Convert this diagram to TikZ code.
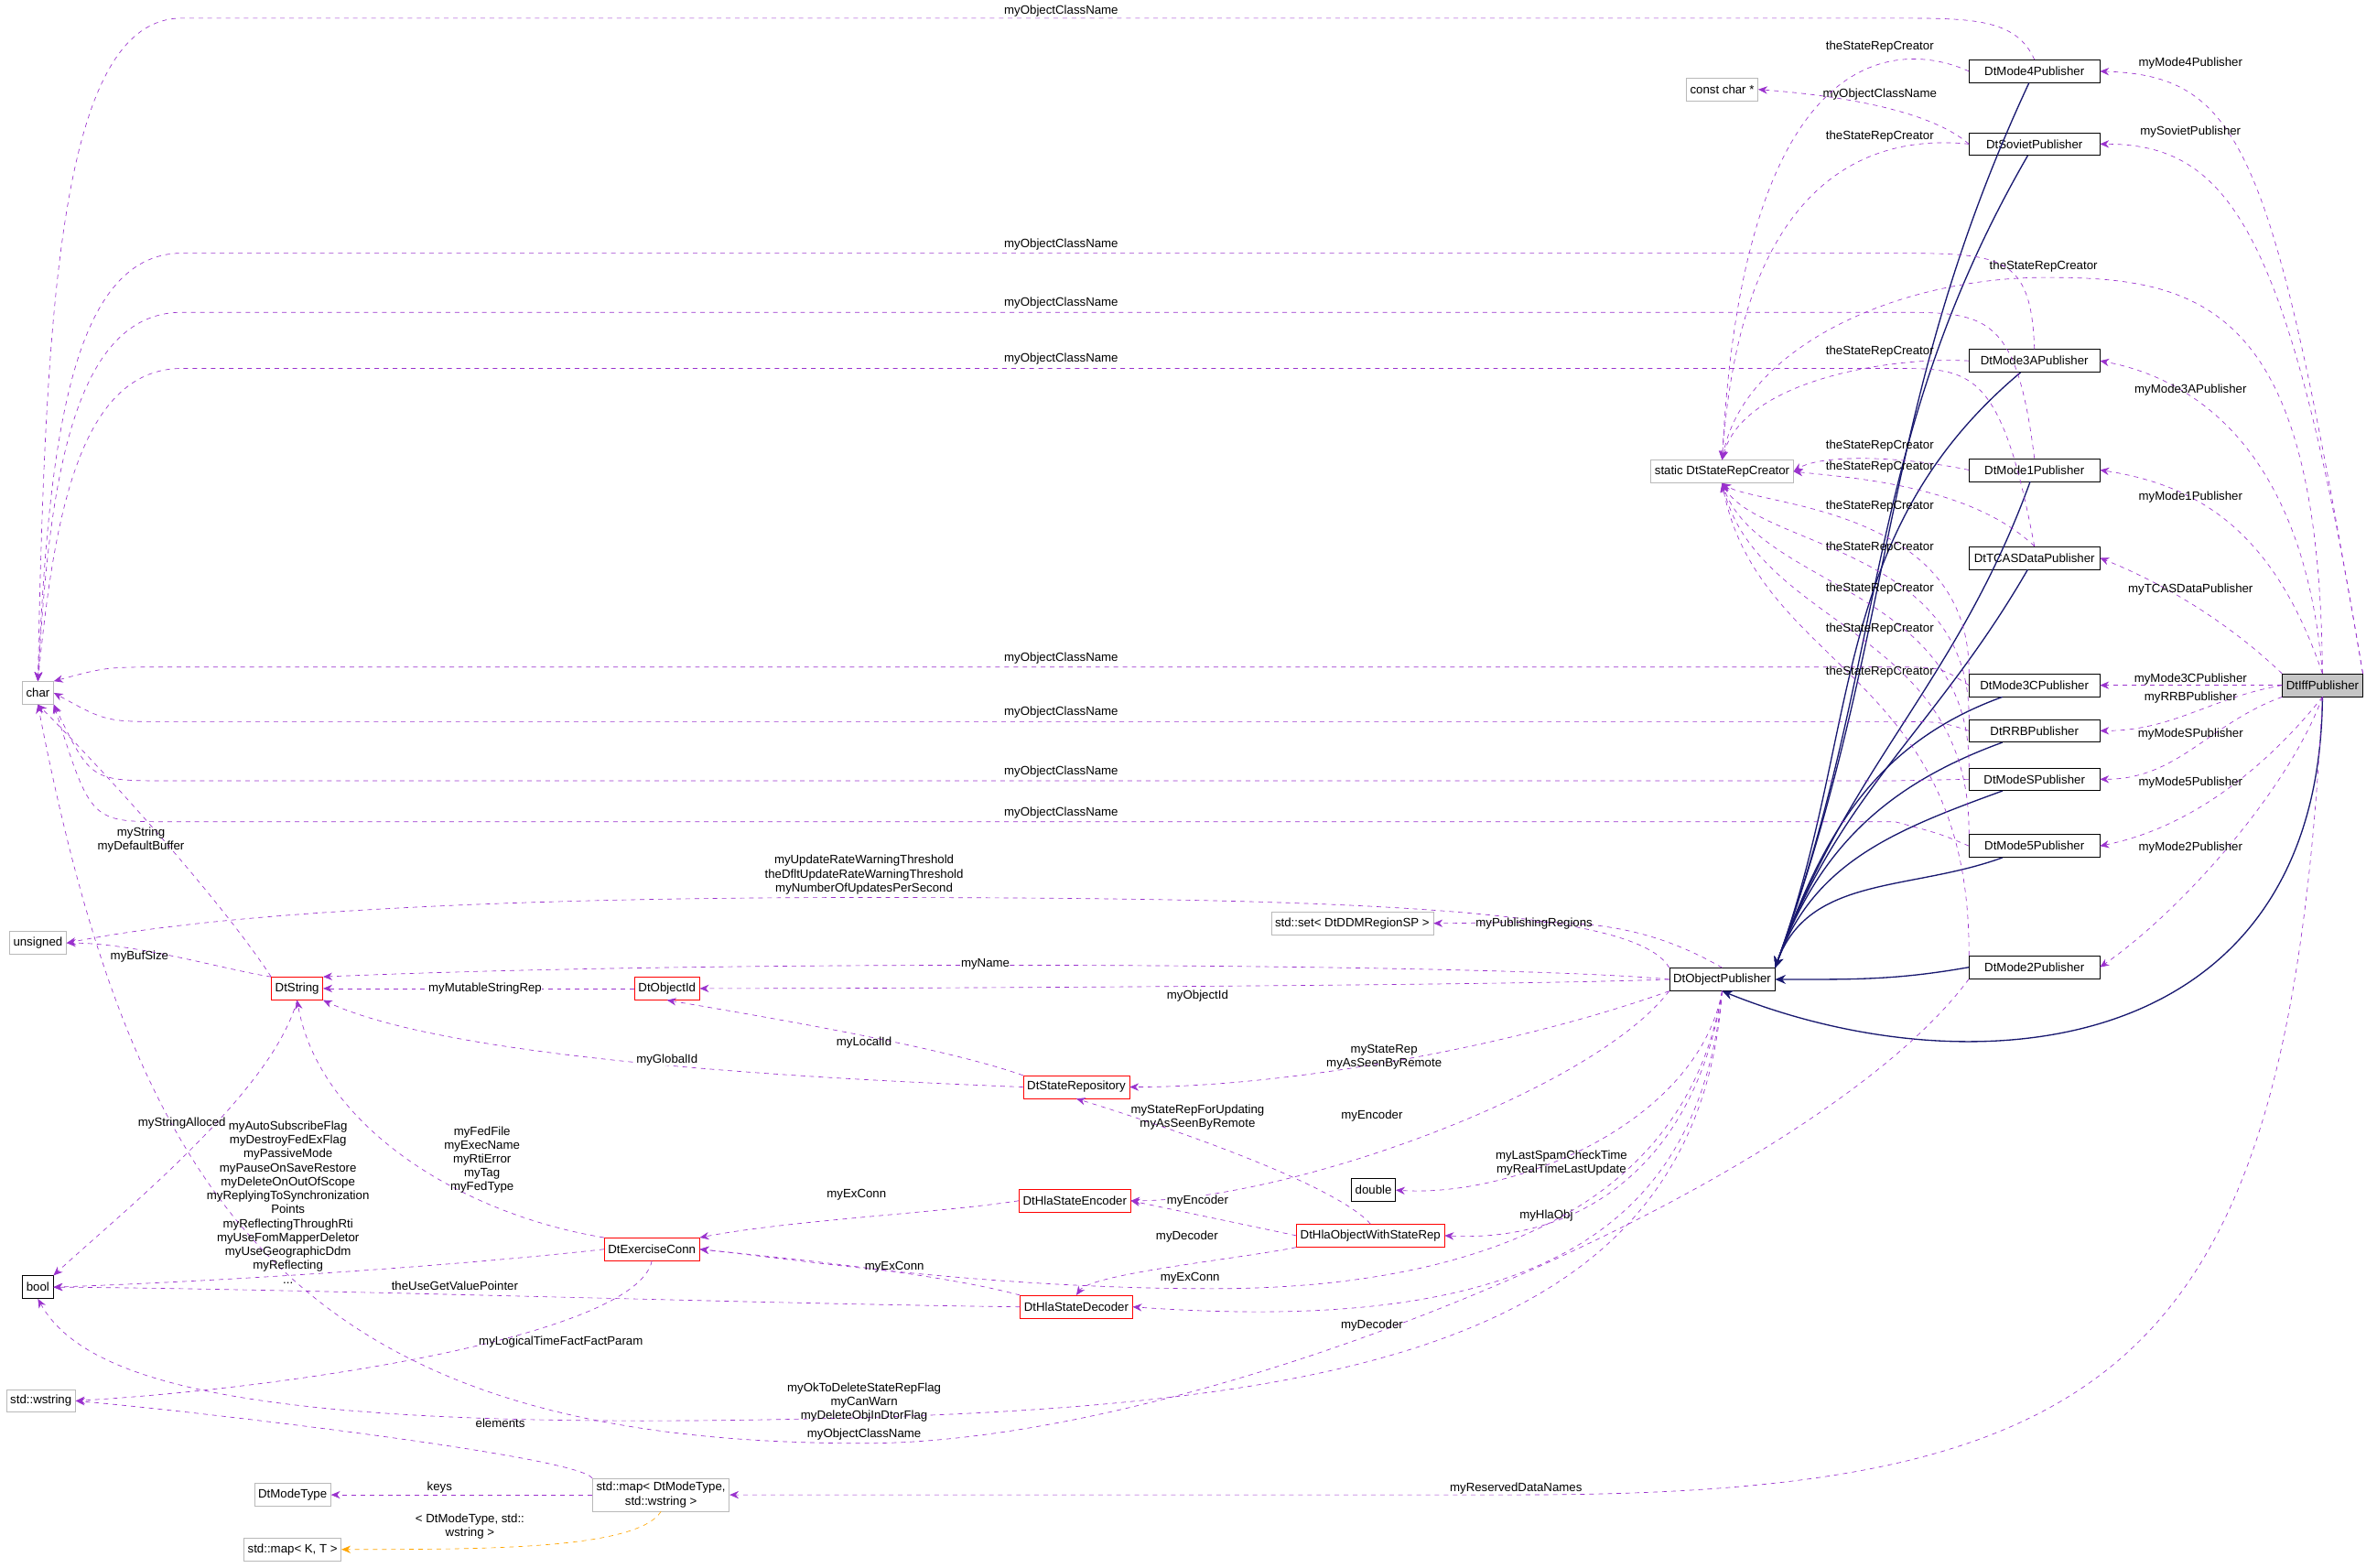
\documentclass[tikz,border=0pt]{standalone}
\usepackage{fontspec}
\setmainfont{Liberation Sans}
\usetikzlibrary{arrows.meta}
\definecolor{dep}{HTML}{9A32CD}
\definecolor{inh}{HTML}{191970}
\definecolor{tpl}{HTML}{FFA500}
\begin{document}
\begin{tikzpicture}[x=1pt,y=-1pt,
 every node/.style={font=\fontsize{8}{9.2}\selectfont},
 b/.style={draw=black,fill=white,inner sep=2.5pt,minimum height=15pt},
 g/.style={draw=gray!55,fill=white,inner sep=2.5pt,minimum height=15pt},
 r/.style={draw=red,fill=white,inner sep=2.5pt,minimum height=15pt},
 p/.style={b,minimum width=86pt},
 d/.style={draw=dep,dashed,-{Stealth[length=6pt,width=5pt]}},
 i/.style={draw=inh,line width=0.8pt,-{Stealth[length=7pt,width=6pt]}},
 t/.style={draw=tpl,dashed,-{Stealth[length=6pt,width=5pt]}},
 l/.style={inner sep=0pt,align=center}]
\useasboundingbox (0,0) rectangle (1568,1034);
% nodes
\node[g] (char) at (25,457) {char};
\node[g] (uns) at (25,622) {unsigned};
\node[b] (bool) at (25,849) {bool};
\node[g] (wstr) at (27,924) {std::wstring};
\node[g] (mt) at (193,986) {DtModeType};
\node[g] (mkt) at (193,1022) {std::map< K, T >};
\node[g,align=center] (map) at (436,986) {std::map< DtModeType,\\std::wstring >};
\node[g] (cc) at (1136,59) {const char *};
\node[g] (cr) at (1136,311) {static DtStateRepCreator};
\node[g] (set) at (892,609) {std::set< DtDDMRegionSP >};
\node[b] (dbl) at (906,785) {double};
\node[r] (str) at (196,652) {DtString};
\node[r] (oid) at (440,652) {DtObjectId};
\node[r] (srep) at (710,717) {DtStateRepository};
\node[r] (enc) at (709,792) {DtHlaStateEncoder};
\node[r] (ec) at (430,824) {DtExerciseConn};
\node[r] (dec) at (710,862) {DtHlaStateDecoder};
\node[r] (hla) at (904,815) {DtHlaObjectWithStateRep};
\node[b] (op) at (1136,646) {DtObjectPublisher};
\node[p] (m4) at (1342,47) {DtMode4Publisher};
\node[p] (sv) at (1342,95) {DtSovietPublisher};
\node[p] (m3a) at (1342,238) {DtMode3APublisher};
\node[p] (m1) at (1342,310) {DtMode1Publisher};
\node[p] (tc) at (1342,368) {DtTCASDataPublisher};
\node[p] (m3c) at (1342,452) {DtMode3CPublisher};
\node[p] (rrb) at (1342,482) {DtRRBPublisher};
\node[p] (ms) at (1342,514) {DtModeSPublisher};
\node[p] (m5) at (1342,558) {DtMode5Publisher};
\node[p] (m2) at (1342,638) {DtMode2Publisher};
\node[b,fill=gray!45] (iff) at (1532,452) {DtIffPublisher};
% inheritance
\foreach \n/\o in {m4/245,sv/240,m3a/220,m1/250,tc/240,m3c/200,rrb/200,ms/200,m5/200}
  \draw[i] (\n) to[out=\o,in=70] (op.north east);
\draw[i] (m2.west) to[out=190,in=0] (op.east);
\draw[i] (iff.south) .. controls (1530,700) and (1300,720) .. (op.south);
% Iff -> publishers
\draw[d] (iff.north east) .. controls (1500,100) and (1480,50) .. (m4.east);
\draw[d] (iff.north east) .. controls (1510,150) and (1470,95) .. (sv.east);
\draw[d] (iff.north) .. controls (1520,300) and (1450,250) .. (m3a.east);
\draw[d] (iff.north) .. controls (1500,350) and (1450,320) .. (m1.east);
\draw[d] (iff.north west) .. controls (1480,420) and (1440,390) .. (tc.east);
\draw[d] (iff.west) -- (m3c.east);
\draw[d] (iff.west) to[out=190,in=0] (rrb.east);
\draw[d] (iff.south west) to[out=200,in=0] (ms.east);
\draw[d] (iff.south) .. controls (1500,500) and (1450,545) .. (m5.east);
\draw[d] (iff.south) .. controls (1510,520) and (1440,600) .. (m2.east);
\node[l] (l1) at (1445,42) {myMode4Publisher};
\node[l] (l2) at (1445,87) {mySovietPublisher};
\node[l] (l3) at (1445,257) {myMode3APublisher};
\node[l] (l4) at (1445,328) {myMode1Publisher};
\node[l] (l5) at (1445,389) {myTCASDataPublisher};
\node[l] (l6) at (1445,448) {myMode3CPublisher};
\node[l] (l7) at (1445,460) {myRRBPublisher};
\node[l] (l8) at (1445,484) {myModeSPublisher};
\node[l] (l9) at (1445,516) {myMode5Publisher};
\node[l] (l10) at (1445,559) {myMode2Publisher};
\draw[d] (iff.north) .. controls (1530,200) and (1450,183) .. (1350,183) .. controls (1250,183) and (1150,230) .. (cr.north);
\node[l] (l11) at (1348,176) {theStateRepCreator};
\draw[d] (iff.south) .. controls (1510,900) and (1400,986) .. (1000,986) -- (map.east);
\node[l] (l12) at (1000,982) {myReservedDataNames};
% publishers -> char
\draw[d] (m4.north) .. controls (1330,12) and (1300,12) .. (1250,12) -- (120,12) .. controls (40,12) and (30,200) .. (char.north);
\node[l] (l13) at (700,7) {myObjectClassName};
\draw[d] (sv.west) .. controls (1270,70) and (1200,62) .. (cc.east);
\node[l] (l14) at (1240,62) {myObjectClassName};
\draw[d] (m3a.north) .. controls (1340,168) and (1320,167) .. (1250,167) -- (120,167) .. controls (45,167) and (32,300) .. (char.north);
\node[l] (l15) at (700,161) {myObjectClassName};
\draw[d] (m1.north) .. controls (1330,206) and (1310,206) .. (1250,206) -- (120,206) .. controls (45,206) and (32,330) .. (char.north);
\node[l] (l16) at (700,200) {myObjectClassName};
\draw[d] (tc.north) .. controls (1320,243) and (1300,243) .. (1250,243) -- (120,243) .. controls (50,243) and (35,350) .. (char.north);
\node[l] (l17) at (700,237) {myObjectClassName};
\draw[d] (m3c.west) .. controls (1280,440) .. (1250,440) -- (110,440) .. controls (70,440) .. (char.north east);
\node[l] (l18) at (700,434) {myObjectClassName};
\draw[d] (rrb.west) .. controls (1280,476) .. (1250,476) -- (110,476) .. controls (70,476) .. (char.east);
\node[l] (l19) at (700,470) {myObjectClassName};
\draw[d] (ms.west) -- (1250,515) -- (110,515) .. controls (60,515) .. (char.south east);
\node[l] (l20) at (700,509) {myObjectClassName};
\draw[d] (m5.west) .. controls (1280,550) .. (1250,542) -- (110,542) .. controls (60,542) .. (char.south east);
\node[l] (l21) at (700,536) {myObjectClassName};
\draw[d] (m2.south west) .. controls (1200,780) and (800,952) .. (570,952) .. controls (200,952) and (90,800) .. (char.south);
\node[l] (l22) at (570,946) {myObjectClassName};
% publishers -> creator
\draw[d] (m4.west) .. controls (1250,25) and (1150,30) .. (cr.north);
\node[l] (l23) at (1240,31) {theStateRepCreator};
\draw[d] (sv.west) .. controls (1250,90) and (1150,100) .. (cr.north);
\node[l] (l24) at (1240,90) {theStateRepCreator};
\draw[d] (m3a.west) .. controls (1250,235) and (1150,250) .. (cr.north);
\node[l] (l25) at (1240,232) {theStateRepCreator};
\draw[d] (m1.west) .. controls (1250,300) and (1200,300) .. (cr.east);
\node[l] (l26) at (1240,294) {theStateRepCreator};
\draw[d] (tc.north) .. controls (1300,320) and (1220,315) .. (cr.east);
\node[l] (l27) at (1240,308) {theStateRepCreator};
\foreach \n/\y in {m3c/334,rrb/361,ms/388,m5/415,m2/443}
  \draw[d] (\n.north west) .. controls (1300,\y) and (1160,\y) .. (cr.south);
\node[l] at (1240,334) {theStateRepCreator};
\node[l] at (1240,361) {theStateRepCreator};
\node[l] at (1240,388) {theStateRepCreator};
\node[l] at (1240,415) {theStateRepCreator};
\node[l] at (1240,443) {theStateRepCreator};
% ObjectPublisher deps
\draw[d] (op.north west) .. controls (1080,600) and (900,592) .. (570,592) .. controls (200,592) and (80,615) .. (uns.east);
\node[l] at (570,577) {myUpdateRateWarningThreshold\\theDfltUpdateRateWarningThreshold\\myNumberOfUpdatesPerSecond};
\draw[d] (op.north) to[out=150,in=0] (set.east);
\node[l] at (1012,609) {myPublishingRegions};
\draw[d] (op.west) .. controls (1000,636) and (500,632) .. (str.north east);
\node[l,fill=white] at (650,636) {myName};
\draw[d] (op.west) .. controls (1000,650) and (600,652) .. (oid.east);
\node[l] at (790,657) {myObjectId};
\draw[d] (op.south west) .. controls (1000,690) and (850,717) .. (srep.east);
\node[l] at (913,697) {myStateRep\\myAsSeenByRemote};
\draw[d] (op.south west) .. controls (1050,720) and (850,792) .. (enc.east);
\node[l] at (905,736) {myEncoder};
\draw[d] (op.south) .. controls (1120,740) and (1000,790) .. (dbl.east);
\node[l] at (1030,767) {myLastSpamCheckTime\\myRealTimeLastUpdate};
\draw[d] (op.south) .. controls (1120,760) and (1050,820) .. (hla.east);
\node[l] at (1020,802) {myHlaObj};
\draw[d] (op.south) .. controls (1110,810) and (950,850) .. (800,850) .. controls (650,850) and (520,830) .. (ec.east);
\node[l] at (785,843) {myExConn};
\draw[d] (op.south) .. controls (1120,820) and (1000,880) .. (dec.east);
\node[l] at (905,874) {myDecoder};
\draw[d] (op.south) .. controls (1120,880) and (900,925) .. (570,935) .. controls (200,945) and (60,920) .. (bool.south);
\node[l] at (570,925) {myOkToDeleteStateRepFlag\\myCanWarn\\myDeleteObjInDtorFlag};
% DtString etc
\draw[d] (str.north west) .. controls (150,600) and (80,520) .. (char.south);
\node[l] at (93,554) {myString\\myDefaultBuffer};
\draw[d] (str.north west) .. controls (150,640) and (90,622) .. (uns.east);
\node[l] at (92,631) {myBufSize};
\draw[d] (str.south) .. controls (180,720) and (80,800) .. (bool.north east);
\node[l] at (120,741) {myStringAlloced};
\draw[d] (oid.west) -- (str.east);
\node[l,fill=white] at (320,652) {myMutableStringRep};
\draw[d] (srep.north west) .. controls (620,690) and (500,670) .. (oid.south);
\node[l] at (570,688) {myLocalId};
\draw[d] (srep.west) .. controls (550,712) and (300,700) .. (str.south east);
\node[l,fill=white] at (440,699) {myGlobalId};
\draw[d] (ec.north west) .. controls (300,800) and (210,740) .. (str.south);
\node[l] at (318,765) {myFedFile\\myExecName\\myRtiError\\myTag\\myFedType};
\draw[d] (ec.west) .. controls (300,835) and (150,845) .. (bool.east);
\node[l] at (190,793) {myAutoSubscribeFlag\\myDestroyFedExFlag\\myPassiveMode\\myPauseOnSaveRestore\\myDeleteOnOutOfScope\\myReplyingToSynchronization\\Points\\myReflectingThroughRti\\myUseFomMapperDeletor\\myUseGeographicDdm\\myReflecting\\...};
\draw[d] (ec.south) .. controls (420,880) and (200,915) .. (wstr.east);
\node[l] at (370,885) {myLogicalTimeFactFactParam};
\draw[d] (enc.west) .. controls (620,800) and (520,805) .. (ec.north east);
\node[l] at (565,788) {myExConn};
\draw[d] (dec.north west) .. controls (620,840) and (520,830) .. (ec.east);
\node[l] at (590,836) {myExConn};
\draw[d] (dec.west) .. controls (500,860) and (200,850) .. (bool.east);
\node[l] at (300,848) {theUseGetValuePointer};
\draw[d] (hla.north) .. controls (880,780) and (760,740) .. (srep.south);
\node[l] at (790,737) {myStateRepForUpdating\\myAsSeenByRemote};
\draw[d] (hla.west) -- (enc.east);
\node[l,fill=white] at (790,792) {myEncoder};
\draw[d] (hla.south west) .. controls (820,830) and (720,840) .. (dec.north);
\node[l] at (783,816) {myDecoder};
\draw[d] (map.north west) .. controls (380,960) and (120,930) .. (wstr.east);
\node[l] at (330,939) {elements};
\draw[d] (map.west) -- (mt.east);
\node[l] at (290,981) {keys};
\draw[t] (map.south) .. controls (420,1022) and (320,1022) .. (mkt.east);
\node[l] at (310,1007) {< DtModeType, std::\\wstring >};
\end{tikzpicture}
\end{document}
